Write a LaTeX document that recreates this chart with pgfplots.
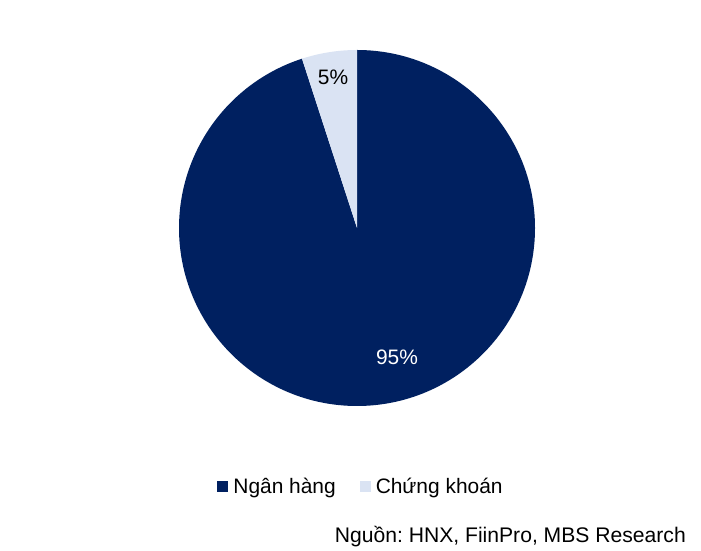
\documentclass[border=0pt]{standalone}
\usepackage{pgfplots}
\pgfplotsset{compat=1.18}
\usepackage{pgfplotstable}
\usepackage{fontspec}
\setmainfont{Liberation Sans}
\frenchspacing
\definecolor{navy}{RGB}{0,32,96}
\definecolor{lightb}{RGB}{218,227,243}
\pgfplotstableread{
label share
{Ngân hàng} 95
{Chứng khoán} 5
}\piedata
\begin{document}
\begin{tikzpicture}
\begin{axis}[
  width=701bp, height=551bp, scale only axis,
  xmin=0, xmax=701, ymin=0, ymax=551,
  hide axis, clip=false,
  /pgf/number format/assume math mode=true,
  legend columns=2,
  legend style={draw=none, fill=none, at={(axis cs:361,64)}, anchor=center,
    font=\fontsize{21}{24}\selectfont, inner xsep=0pt,
    /tikz/every odd column/.append style={column sep=3bp},
    /tikz/every even column/.append style={column sep=22bp}},
  legend image code/.code={\fill[#1, draw=none] (0bp,-5.5bp) rectangle (11bp,5.5bp);},
]
\pgfplotstablegetelem{0}{share}\of\piedata \let\va\pgfplotsretval
\pgfplotstablegetelem{1}{share}\of\piedata \let\vb\pgfplotsretval
\pgfmathsetmacro{\angb}{90+\vb*3.6}
% pie wedges
\fill[navy] (axis cs:357,323) -- (axis cs:357,501) arc[start angle=90, end angle={\angb-360}, radius=178bp] -- cycle;
\fill[lightb] (axis cs:357,323) -- (axis cs:357,501) arc[start angle=90, end angle=\angb, radius=178bp] -- cycle;
\addlegendimage{fill=navy, draw=none}
\addlegendentry{Ngân hàng}
\addlegendimage{fill=lightb, draw=none}
\addlegendentry{Chứng khoán}
\node[font=\fontsize{21}{24}\selectfont, text=black] at (axis cs:333,474) {\pgfmathprintnumber[fixed,precision=0]{\vb}\%};
\node[font=\fontsize{21}{24}\selectfont, text=white] at (axis cs:397,194) {\pgfmathprintnumber[fixed,precision=0]{\va}\%};
\node[font=\fontsize{21.2}{24}\selectfont, anchor=east, inner sep=0pt] at (axis cs:686,14) {Nguồn: HNX, FiinPro, MBS Research};
\path (axis cs:0,0) rectangle (axis cs:701,551);
\end{axis}
\end{tikzpicture}
\end{document}
